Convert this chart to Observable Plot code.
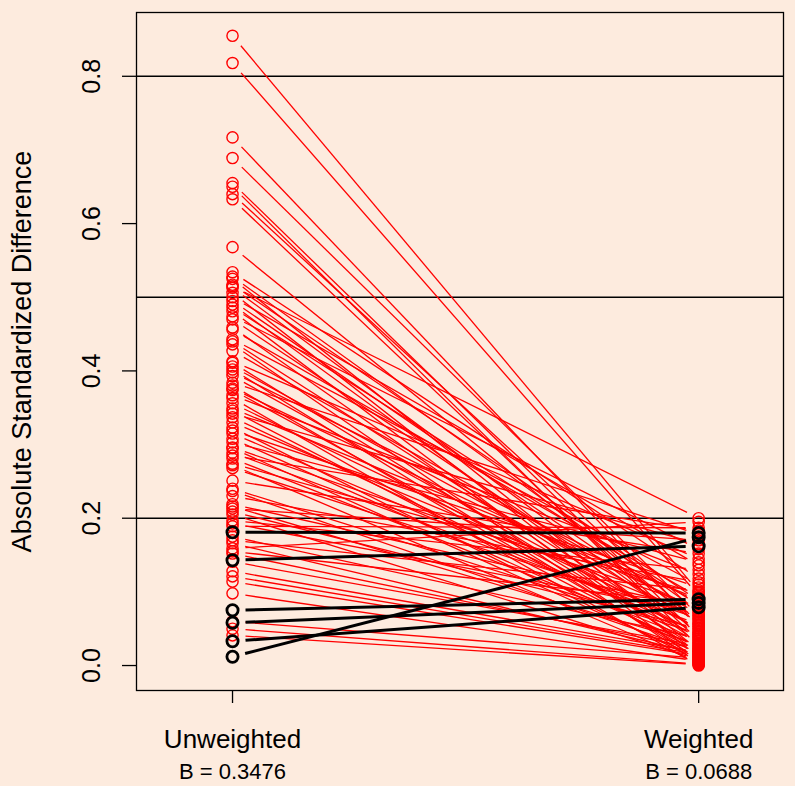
<!DOCTYPE html>
<html>
<head>
<meta charset="utf-8">
<script src="https://cdn.jsdelivr.net/npm/d3@7"></script>
<script src="https://cdn.jsdelivr.net/npm/@observablehq/plot@0.6"></script>
<style>
  html, body { margin: 0; padding: 0; background: #FDEBDE; }
</style>
</head>
<body>
<div id="chart"></div>
<script>
const groups = ["Unweighted", "Weighted"];
const bLabels = ["B = 0.3476", "B = 0.0688"];
const yTicks = [0, 0.2, 0.4, 0.6, 0.8];
const refLines = [0.2, 0.5, 0.8];
const yTitle = "Absolute Standardized Difference";

// covariates whose difference shrank (red)
const redUnweighted = [0.855,0.818,0.717,0.689,0.655,0.650,0.640,0.633,0.568,
  0.534,0.528,0.525,0.517,0.515,0.513,0.506,0.500,0.495,0.490,0.486,0.481,0.474,0.470,0.459,0.456,0.443,0.440,0.436,0.427,0.413,0.411,0.406,0.402,0.398,0.393,0.384,
  0.380,0.376,0.374,0.367,0.363,0.356,0.349,0.346,0.342,0.337,0.330,0.323,0.319,0.315,0.308,0.303,0.296,0.295,0.289,0.285,0.281,0.274,0.272,0.268,0.251,0.240,0.237,0.230,0.219,0.216,0.213,0.209,0.205,
  0.197,0.193,0.189,0.175,0.170,0.166,0.159,0.155,0.152,0.141,0.128,0.121,0.114,0.098,0.060,0.050,0.041];
const redWeighted = [0.100,0.095,0.053,0.068,0.040,0.026,0.058,0.034,0.055,0.118,
  0.074,0.021,0.088,0.200,0.045,0.012,0.136,0.062,0.030,0.082,
  0.005,0.158,0.048,0.017,0.093,0.110,0.036,0.003,0.070,0.145,
  0.023,0.060,0.009,0.086,0.042,0.178,0.014,0.076,0.031,0.124,
  0.000,0.051,0.090,0.019,0.165,0.039,0.066,0.007,0.106,0.046,
  0.025,0.140,0.080,0.011,0.056,0.183,0.033,0.098,0.004,0.064,
  0.152,0.043,0.020,0.113,0.078,0.029,0.170,0.050,0.008,0.130,
  0.072,0.187,0.037,0.102,0.016,0.195,0.084,0.022,0.027,0.018,
  0.015,0.013,0.006,0.010,0.002,0.001];

// covariates whose difference grew or stayed small (black)
const blackUnweighted = [0.181, 0.143, 0.075, 0.058, 0.033, 0.012];
const blackWeighted   = [0.180, 0.162, 0.090, 0.085, 0.079, 0.174];

const W = 795, H = 786;
const mL = 136, mR = 12, mT = 12, mB = 96;
const xDomain = [0.794, 2.182];
const yDomain = [-0.0339, 0.8866];
const pxX = (W - mL - mR) / (xDomain[1] - xDomain[0]);
const pxY = (H - mT - mB) / (yDomain[1] - yDomain[0]);
const gapPx = 13;

function pairs(u, w, color) {
  const n = Math.min(u.length, w.length);
  const out = [];
  for (let i = 0; i < n; i++) {
    const dx = pxX, dy = (w[i] - u[i]) * pxY;
    const g = gapPx / Math.hypot(dx, dy);
    out.push({
      u: u[i], w: w[i], color,
      x1: 1 + g, y1: u[i] + g * (w[i] - u[i]),
      x2: 2 - g, y2: w[i] - g * (w[i] - u[i])
    });
  }
  return out;
}
const red = pairs(redUnweighted, redWeighted, "red");
const black = pairs(blackUnweighted, blackWeighted, "black");
const dotsOf = (arr) => arr.flatMap(d => [{x: 1, y: d.u}, {x: 2, y: d.w}]);

const font = "'Liberation Sans', Arial, Helvetica, sans-serif";

const chart = Plot.plot({
  width: W, height: H,
  marginLeft: mL, marginRight: mR, marginTop: mT, marginBottom: mB,
  style: {background: "#FDEBDE", fontFamily: font, color: "black"},
  x: {domain: xDomain},
  y: {domain: yDomain},
  marks: [
    Plot.ruleY(refLines, {stroke: "black", strokeWidth: 1.6}),
    Plot.link(red, {x1: "x1", y1: "y1", x2: "x2", y2: "y2", stroke: "red", strokeWidth: 1.3}),
    Plot.dot(dotsOf(red), {x: "x", y: "y", r: 5.6, stroke: "red", strokeWidth: 1.4}),
    Plot.link(black, {x1: "x1", y1: "y1", x2: "x2", y2: "y2", stroke: "black", strokeWidth: 3}),
    Plot.dot(dotsOf(black), {x: "x", y: "y", r: 5.6, stroke: "black", strokeWidth: 2.8}),
    Plot.frame({stroke: "black", strokeWidth: 1.3}),
    Plot.axisY(yTicks, {
      tickFormat: d3.format(".1f"), tickSize: 14, tickPadding: 23, tickRotate: -90,
      fontSize: 25, label: null, strokeWidth: 1.3
    }),
    Plot.axisX([1, 2], {tickSize: 13, tickFormat: () => "", label: null, strokeWidth: 1.3}),
    Plot.text(groups, {x: (d, i) => i + 1, frameAnchor: "bottom", dy: 57, text: d => d, fontSize: 26}),
    Plot.text(bLabels, {x: (d, i) => i + 1, frameAnchor: "bottom", dy: 88, text: d => d, fontSize: 22}),
    Plot.text([yTitle], {frameAnchor: "left", dx: -114, rotate: -90, textAnchor: "middle", text: d => d, fontSize: 27})
  ]
});
document.getElementById("chart").appendChild(chart);
</script>
</body>
</html>
